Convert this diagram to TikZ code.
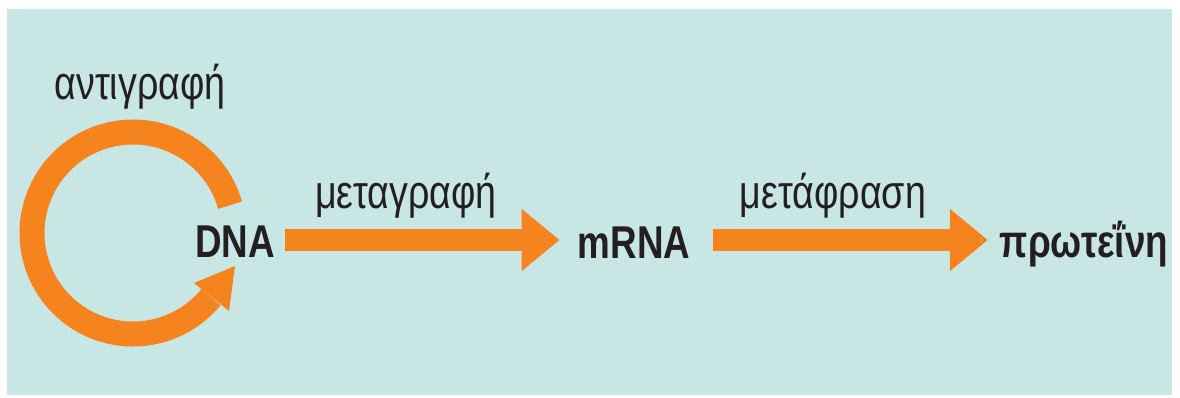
\documentclass[tikz,border=0pt]{standalone}
\usepackage{fontspec}
\setmainfont{Liberation Sans}[FakeStretch=0.8]
\usetikzlibrary{arrows.meta}

\begin{document}
\begin{tikzpicture}[x=1pt,y=1pt]
	\definecolor{lightteal}{RGB}{200,230,228}
	\definecolor{processorange}{RGB}{245,132,31}
	\definecolor{inkblack}{RGB}{35,31,32}
	\tikzset{
		molecule/.style={inner sep=0pt, anchor=base, text=inkblack, font=\fontsize{46}{52}\selectfont\bfseries},
		process/.style={inner sep=0pt, anchor=base, text=inkblack, font=\fontsize{47}{52}\selectfont},
		bigarrow/.style={processorange, line width=22pt, -{Triangle[length=38pt,width=60pt]}},
		loopring/.style={processorange, line width=25pt},
	}

	\useasboundingbox (0,0) rectangle (1180,397);
	\fill[lightteal] (7,2) rectangle (1172,388);

	\node[molecule] (dna) at (235,140) {DNA};
	\node[molecule] (mrna) at (634,139) {mRNA};
	\node[molecule] (protein) at (1084,140) {πρωτεΐνη};

	\node[process] (replication) at (140,297) {αντιγραφή};
	\node[process] (transcription) at (406,189) {μεταγραφή};
	\node[process] (translation) at (833,189) {μετάφραση};

	\draw[bigarrow] ([xshift=10pt,yshift=17pt]dna.base east) -- ([xshift=-18pt,yshift=18pt]mrna.base west);
	\draw[bigarrow] ([xshift=23pt,yshift=18pt]mrna.base east) -- ([xshift=-12pt,yshift=17pt]protein.base west);

	\coordinate (cyc) at (133,164);
	\draw[loopring] ([shift={(16:101)}]cyc) arc[start angle=16, end angle=320.6, radius=101];
	\fill[processorange] (235,131) -- (194,114) -- (229,86) -- cycle;
\end{tikzpicture}
\end{document}
